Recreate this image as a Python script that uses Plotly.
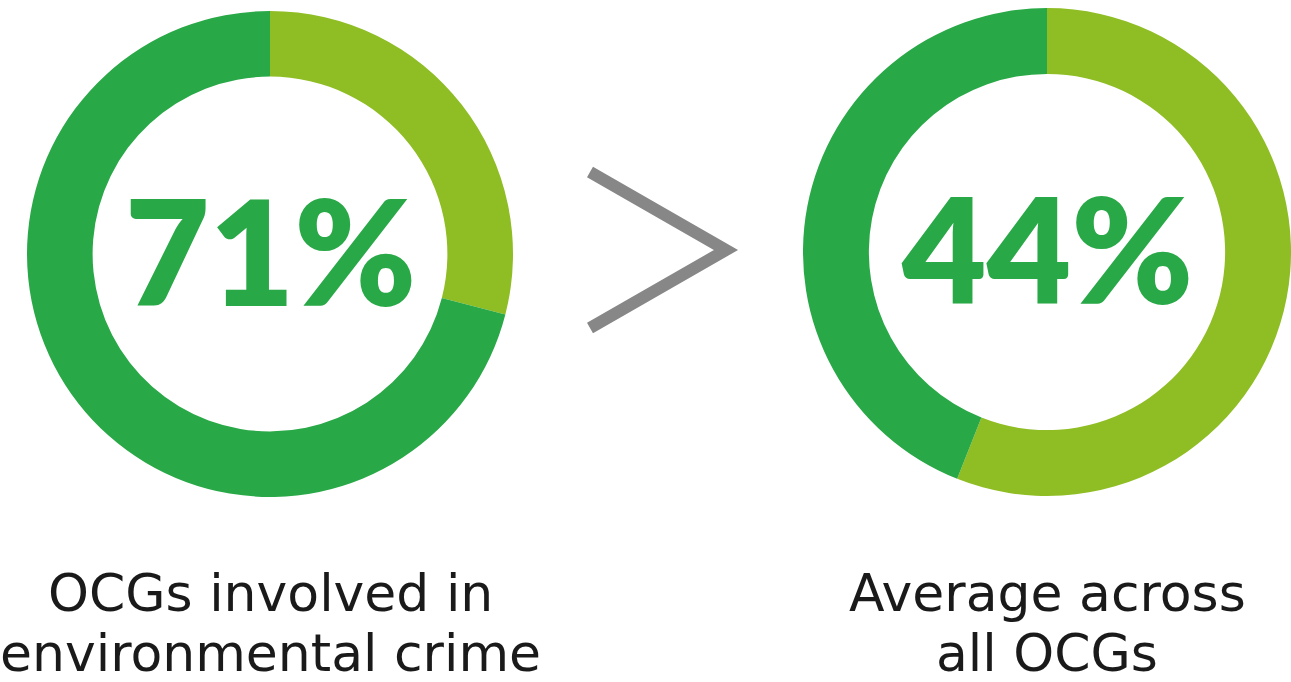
import plotly.graph_objects as go

W, H = 1291, 682

# Data
segments = ["Other", "Share"]
left_values = [29, 71]     # OCGs involved in environmental crime: 71%
right_values = [56, 44]    # Average across all OCGs: 44%
center_labels = ["71%", "44%"]
bottom_labels = [["OCGs involved in", "environmental crime"], ["Average across", "all OCGs"]]

LIGHT = "#8fbd24"
DARK = "#28a846"
TEXT = "#1a1a1a"
GRAY = "#878787"

def px(x):
    return x / W

def py(y):
    return 1 - y / H

fig = go.Figure()

domains = [
    dict(x=[px(27), px(513)], y=[py(497), py(11)]),
    dict(x=[px(803), px(1291)], y=[py(496), py(8)]),
]
for vals, dom in zip([left_values, right_values], domains):
    fig.add_trace(go.Pie(
        labels=segments, values=vals, hole=0.73, sort=False,
        direction="clockwise", rotation=0,
        marker=dict(colors=[LIGHT, DARK], line=dict(width=0)),
        textinfo="none", hoverinfo="label+value", domain=dom, showlegend=False,
    ))

centers = [270, 1047]
cy = [249, 247]
for cx, y, lab in zip(centers, cy, center_labels):
    fig.add_annotation(x=px(cx), y=py(y), xref="paper", yref="paper",
                       text=lab, showarrow=False,
                       font=dict(family="Lato", size=146, color=DARK, weight=800),
                       xanchor="center", yanchor="middle")

for cx, lines in zip(centers, bottom_labels):
    for yy, t in zip([593, 653], lines):
        fig.add_annotation(x=px(cx), y=py(yy), xref="paper", yref="paper",
                           text=t, showarrow=False,
                           font=dict(family="DejaVu Sans", size=52, color=TEXT),
                           xanchor="center", yanchor="middle")

# chevron ">"
path = f"M {px(590)} {py(172)} L {px(726)} {py(250)} L {px(590)} {py(328)}"
fig.add_shape(type="path", path=path, xref="paper", yref="paper",
              line=dict(color=GRAY, width=12))

fig.update_layout(
    width=W, height=H, margin=dict(l=0, r=0, t=0, b=0),
    paper_bgcolor="white", plot_bgcolor="white",
    xaxis=dict(visible=False), yaxis=dict(visible=False),
)
fig.write_html("out.html")
